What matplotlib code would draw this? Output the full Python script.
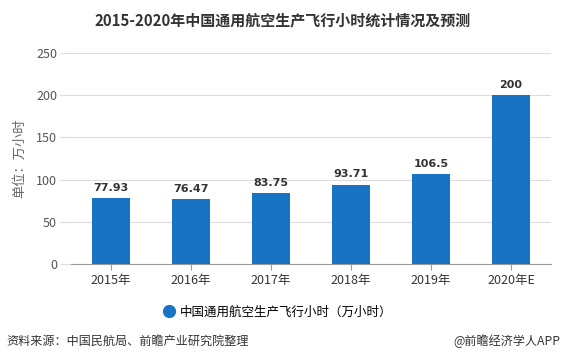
import matplotlib
matplotlib.use("Agg")
import matplotlib.pyplot as plt
from matplotlib.lines import Line2D

plt.rcParams['font.family'] = ['Noto Sans CJK SC', 'DejaVu Sans']

categories = ["2015年", "2016年", "2017年", "2018年", "2019年", "2020年E"]
values = [77.93, 76.47, 83.75, 93.71, 106.5, 200]
value_labels = ["77.93", "76.47", "83.75", "93.71", "106.5", "200"]
yticks = [0, 50, 100, 150, 200, 250]
series_name = "中国通用航空生产飞行小时（万小时）"

bar_color = "#1874C3"

fig = plt.figure(figsize=(5.66, 3.64), dpi=100)
ax = fig.add_axes([0.1254, 0.2747, 0.8481, 0.5797])

x = list(range(len(categories)))
ax.bar(x, values, width=0.475, color=bar_color, zorder=3)
for xi, v, lab in zip(x, values, value_labels):
    ax.annotate(lab, (xi, v), xytext=(0, 4), textcoords="offset points",
                ha="center", va="bottom", fontsize=8, fontweight="bold",
                color="#333333", family=["DejaVu Sans"])

ax.set_xlim(-0.5, len(categories) - 0.5)
ax.set_ylim(0, 250)
ax.set_yticks(yticks)
ax.set_yticklabels([str(t) for t in yticks])
ax.set_xticks(x)
ax.set_xticklabels(categories)
ax.grid(axis="y", color="#dddddd", linewidth=0.8, zorder=0)
for s in ["top", "right", "left"]:
    ax.spines[s].set_visible(False)
ax.spines["bottom"].set_color("#999999")
ax.tick_params(axis="y", length=8, color="#dddddd", labelsize=9, labelcolor="#555555", pad=2)
ax.tick_params(axis="x", length=4, color="#999999", labelsize=9, labelcolor="#333333", pad=3)

fig.text(0.034, 0.566, "单位：万小时", rotation=90, ha="center", va="center",
         fontsize=9.5, color="#666666")

fig.text(0.5, 0.945, "2015-2020年中国通用航空生产飞行小时统计情况及预测",
         ha="center", va="center", fontsize=10.8, fontweight="bold", color="#333333")

handle = Line2D([], [], marker="o", linestyle="none", markersize=8.5,
                markerfacecolor=bar_color, markeredgecolor=bar_color)
fig.legend([handle], [series_name], loc="center", bbox_to_anchor=(0.49, 0.143),
           frameon=False, fontsize=9, handletextpad=0.4, handlelength=1.0)

fig.text(0.012, 0.063, "资料来源：中国民航局、前瞻产业研究院整理", ha="left", va="center",
         fontsize=8.7, color="#333333")
fig.text(0.99, 0.063, "@前瞻经济学人APP", ha="right", va="center",
         fontsize=8.7, color="#333333")

fig.savefig("out.png", dpi=100)
